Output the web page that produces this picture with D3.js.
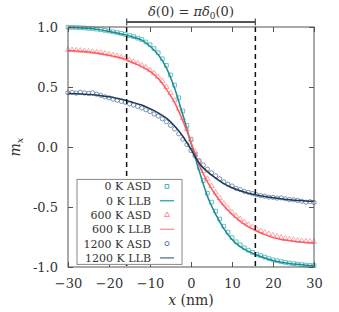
<!DOCTYPE html>
<html>
<head>
<meta charset="utf-8">
<script src="https://cdn.jsdelivr.net/npm/d3@7"></script>
<style>
  body { margin: 0; background: #fff; }
  svg { display: block; }
</style>
</head>
<body>
<svg id="chart" width="339" height="312"></svg>
<script>
// ---- data ----
const llbX = [-30,-28,-26,-24,-22,-20,-18,-16,-14,-12,-10,-8,-6,-4,-2,0,2,4,6,8,10,12,14,16,18,20,22,24,26,28,30];
const llb0 = [0.995,0.993,0.99,0.985,0.976,0.963,0.95,0.935,0.915,0.89,0.84,0.77,0.66,0.49,0.27,0.03,-0.2,-0.41,-0.56,-0.68,-0.77,-0.83,-0.87,-0.9,-0.925,-0.945,-0.96,-0.97,-0.978,-0.985,-0.99];
const llb600 = [0.805,0.8,0.795,0.788,0.778,0.765,0.75,0.73,0.7,0.67,0.63,0.57,0.48,0.37,0.22,0.04,-0.15,-0.29,-0.4,-0.49,-0.56,-0.62,-0.665,-0.7,-0.73,-0.755,-0.77,-0.78,-0.79,-0.795,-0.8];
const llb1200 = [0.445,0.443,0.44,0.435,0.427,0.418,0.405,0.39,0.37,0.35,0.32,0.285,0.24,0.175,0.09,-0.02,-0.135,-0.205,-0.26,-0.305,-0.34,-0.365,-0.385,-0.4,-0.413,-0.423,-0.432,-0.44,-0.445,-0.45,-0.453];

const asdX = [-30,-29,-28,-27,-26,-25,-24,-23,-22,-21,-20,-19,-18,-17,-16,-15,-14,-13,-12,-11,-10,-9,-8,-7,-6,-5,-4,-3,-2,-1,0,1,2,3,4,5,6,7,8,9,10,11,12,13,14,15,16,17,18,19,20,21,22,23,24,25,26,27,28,29,30];
const asd0 = [0.998,0.997,0.996,0.994,0.992,0.989,0.987,0.982,0.978,0.972,0.966,0.96,0.953,0.946,0.938,0.929,0.92,0.907,0.895,0.875,0.852,0.82,0.785,0.735,0.68,0.6,0.515,0.41,0.3,0.18,0.065,-0.06,-0.17,-0.28,-0.385,-0.46,-0.535,-0.6,-0.66,-0.71,-0.755,-0.79,-0.815,-0.84,-0.86,-0.878,-0.895,-0.905,-0.918,-0.93,-0.94,-0.948,-0.955,-0.962,-0.967,-0.972,-0.976,-0.98,-0.984,-0.987,-0.989];
const asd600 = [0.81,0.808,0.806,0.803,0.8,0.797,0.794,0.79,0.785,0.779,0.772,0.765,0.758,0.748,0.738,0.725,0.712,0.697,0.68,0.662,0.64,0.615,0.585,0.55,0.5,0.45,0.39,0.32,0.24,0.15,0.06,-0.04,-0.12,-0.2,-0.265,-0.325,-0.38,-0.425,-0.47,-0.51,-0.545,-0.575,-0.6,-0.625,-0.648,-0.668,-0.685,-0.7,-0.713,-0.725,-0.736,-0.746,-0.755,-0.762,-0.768,-0.774,-0.779,-0.783,-0.786,-0.789,-0.79];
const asd1200 = [0.452,0.455,0.449,0.456,0.45,0.447,0.452,0.44,0.43,0.418,0.41,0.398,0.39,0.38,0.372,0.36,0.35,0.338,0.325,0.31,0.296,0.275,0.258,0.235,0.21,0.18,0.15,0.11,0.065,0.02,-0.03,-0.075,-0.115,-0.15,-0.185,-0.215,-0.24,-0.265,-0.29,-0.31,-0.325,-0.345,-0.355,-0.37,-0.378,-0.388,-0.398,-0.405,-0.41,-0.418,-0.42,-0.426,-0.424,-0.432,-0.438,-0.44,-0.445,-0.452,-0.46,-0.456,-0.462];

const xTicks = [-30,-20,-10,0,10,20,30];
const yTicks = [-1,-0.5,0,0.5,1];
const yTickLabels = ['-1.0','-0.5','0.0','0.5','1.0'];
const wallEdges = [-15.7, 15.7];

const legendLabels = ['0 K ASD','0 K LLB','600 K ASD','600 K LLB','1200 K ASD','1200 K LLB'];

// ---- layout ----
const width = 339, height = 312;
const margin = {top: 27, right: 25, bottom: 45, left: 68};
const innerwidth = width - margin.left - margin.right;
const innerheight = height - margin.top - margin.bottom;
const serif = 'DejaVu Serif';

const svg = d3.select('#chart');
const g = svg.append('g').attr('transform', `translate(${margin.left},${margin.top})`);

const xScale = d3.scaleLinear().domain([-30, 30]).range([0, innerwidth]);
const yScale = d3.scaleLinear().domain([-1, 1]).range([innerheight, 0]);

const series = [
  {asd: asd0, llb: llb0, sym: d3.symbolSquare, size: 14, mk: '#3fb0b4', line: '#178d95', leg: '#47a9b3'},
  {asd: asd600, llb: llb600, sym: d3.symbolTriangle, size: 12, mk: '#ff9095', line: '#ff5a62', leg: '#ff9da2'},
  {asd: asd1200, llb: llb1200, sym: d3.symbolCircle, size: 14, mk: '#58739a', line: '#1c3a5d', leg: '#6c86a6'}
];

// markers
series.forEach(s => {
  const sym = d3.symbol().type(s.sym).size(s.size);
  g.append('g').selectAll('path').data(asdX)
    .enter().append('path')
      .attr('transform', (d, i) => `translate(${xScale(d)},${yScale(s.asd[i])})`)
      .attr('d', sym)
      .attr('fill', 'none')
      .attr('stroke', s.mk)
      .attr('stroke-opacity', 0.85)
      .attr('stroke-width', 0.9);
});

// LLB lines
const lineGen = d3.line()
  .x(d => xScale(d[0]))
  .y(d => yScale(d[1]))
  .curve(d3.curveMonotoneX);

series.forEach(s => {
  g.append('path')
    .attr('d', lineGen(llbX.map((x, i) => [x, s.llb[i]])))
    .attr('fill', 'none')
    .attr('stroke', s.line)
    .attr('stroke-width', 1.5);
});

// dashed wall edges
g.selectAll('.wall').data(wallEdges)
  .enter().append('line')
    .attr('class', 'wall')
    .attr('x1', d => xScale(d)).attr('x2', d => xScale(d))
    .attr('y1', 0).attr('y2', innerheight)
    .attr('stroke', '#111')
    .attr('stroke-width', 1.5)
    .attr('stroke-dasharray', '5,4');

// frame + inward ticks on all sides
const frameColor = '#555';
const axisStyle = sel => {
  sel.attr('font-family', serif).attr('font-size', 13);
  sel.selectAll('.domain').remove();
  sel.selectAll('.tick line').attr('stroke', frameColor);
  sel.selectAll('.tick text').attr('fill', '#333');
};

g.append('g')
  .attr('transform', `translate(0,${innerheight})`)
  .call(d3.axisBottom(xScale).tickValues(xTicks).tickSizeInner(-5).tickSizeOuter(0).tickPadding(12))
  .call(axisStyle);

g.append('g')
  .call(d3.axisTop(xScale).tickValues(xTicks).tickSizeInner(-5).tickSizeOuter(0).tickFormat(''))
  .call(axisStyle);

g.append('g')
  .call(d3.axisLeft(yScale).tickValues(yTicks).tickSizeInner(-5).tickSizeOuter(0).tickPadding(10)
    .tickFormat((d, i) => yTickLabels[i]))
  .call(axisStyle);

g.append('g')
  .attr('transform', `translate(${innerwidth},0)`)
  .call(d3.axisRight(yScale).tickValues(yTicks).tickSizeInner(-5).tickSizeOuter(0).tickFormat(''))
  .call(axisStyle);

g.append('rect')
  .attr('width', innerwidth).attr('height', innerheight)
  .attr('fill', 'none')
  .attr('stroke', frameColor)
  .attr('stroke-width', 1);

// legend
const leg = g.append('g')
  .attr('transform', `translate(${xScale(-27.8)},${yScale(-0.27)})`)
  .attr('font-family', serif);
leg.append('rect')
  .attr('width', 105).attr('height', 85)
  .attr('fill', '#fff')
  .attr('stroke', '#888')
  .attr('stroke-width', 1);

const rowH = 14.3;
legendLabels.forEach((lab, i) => {
  const s = series[Math.floor(i / 2)];
  const cy = 7 + i * rowH;
  leg.append('text')
    .attr('x', 74).attr('y', cy + 4)
    .attr('text-anchor', 'end')
    .attr('font-size', 11)
    .attr('fill', '#333')
    .text(lab);
  if (i % 2 === 0) {
    leg.append('path')
      .attr('transform', `translate(90,${cy})`)
      .attr('d', d3.symbol().type(s.sym).size(s.size)())
      .attr('fill', 'none')
      .attr('stroke', s.mk)
      .attr('stroke-width', 1);
  } else {
    leg.append('line')
      .attr('x1', 83).attr('x2', 97)
      .attr('y1', cy).attr('y2', cy)
      .attr('stroke', s.leg)
      .attr('stroke-width', 1.5);
  }
});

// bracket annotation
const by = -5;
const bracket = g.append('g').attr('stroke', '#555').attr('stroke-width', 2);
bracket.append('line')
  .attr('x1', xScale(wallEdges[0])).attr('x2', xScale(wallEdges[1]))
  .attr('y1', by).attr('y2', by);
wallEdges.forEach(e => {
  bracket.append('line')
    .attr('x1', xScale(e)).attr('x2', xScale(e))
    .attr('y1', by - 3.5).attr('y2', by + 3.5)
    .attr('stroke-width', 1.3);
});

const ann = g.append('text')
  .attr('x', xScale(0)).attr('y', -11)
  .attr('text-anchor', 'middle')
  .attr('font-family', serif)
  .attr('font-size', 13)
  .attr('fill', '#333');
ann.append('tspan').attr('font-style', 'italic').text('δ');
ann.append('tspan').text('(0) = ');
ann.append('tspan').attr('font-style', 'italic').text('πδ');
ann.append('tspan').attr('dy', 3).attr('font-size', 9).text('0');
ann.append('tspan').attr('dy', -3).text('(0)');

// axis labels
const xl = svg.append('text')
  .attr('x', margin.left + innerwidth / 2).attr('y', 305)
  .attr('text-anchor', 'middle')
  .attr('font-family', serif)
  .attr('font-size', 14)
  .attr('fill', '#333');
xl.append('tspan').attr('font-style', 'italic').text('x');
xl.append('tspan').text(' (nm)');

const yl = svg.append('text')
  .attr('transform', `translate(20,${margin.top + innerheight / 2}) rotate(-90)`)
  .attr('text-anchor', 'middle')
  .attr('font-family', serif)
  .attr('font-size', 14)
  .attr('fill', '#333');
yl.append('tspan').attr('font-style', 'italic').text('m');
yl.append('tspan').attr('font-style', 'italic').attr('dy', 3).attr('font-size', 10).text('x');
</script>
</body>
</html>
